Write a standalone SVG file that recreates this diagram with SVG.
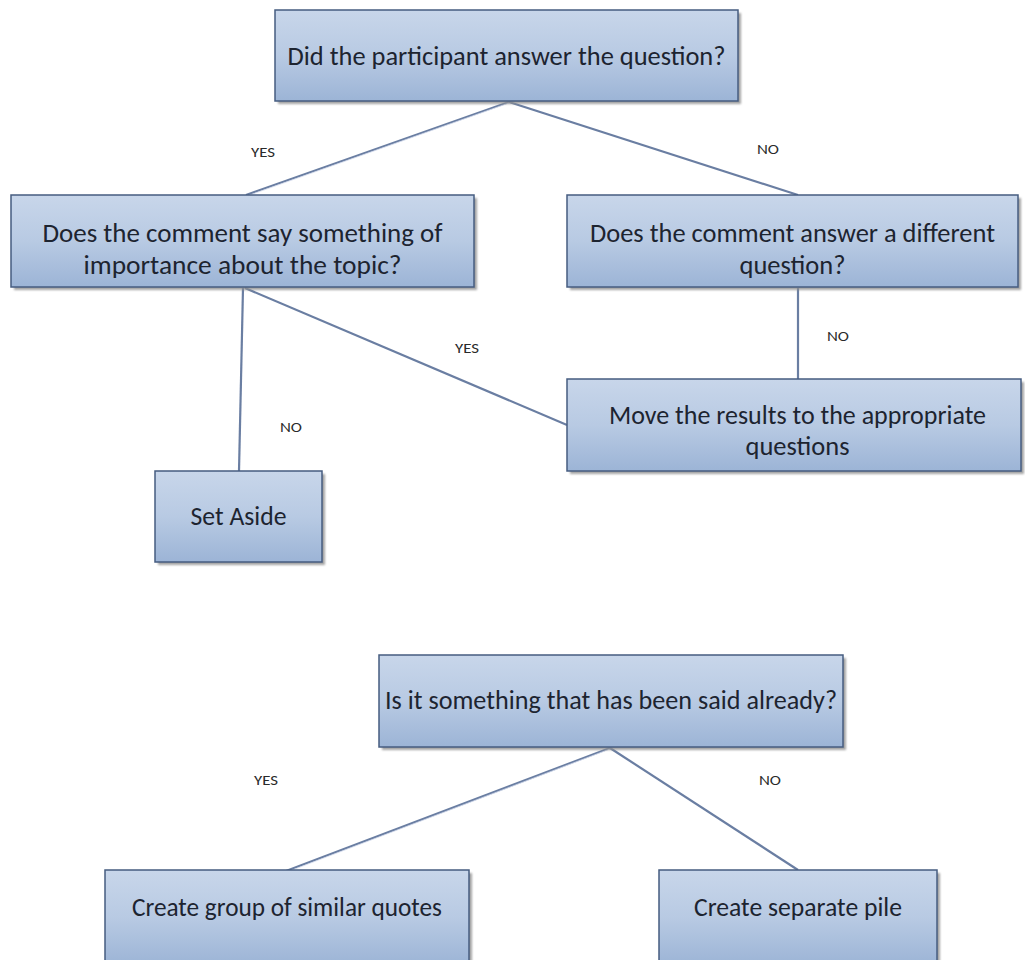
<svg xmlns="http://www.w3.org/2000/svg" width="1025" height="960" viewBox="0 0 1025 960">
  <defs>
    <linearGradient id="boxFill" x1="0" y1="0" x2="0" y2="1">
      <stop offset="0" stop-color="#c8d6ea"/>
      <stop offset="0.5" stop-color="#b8cae3"/>
      <stop offset="1" stop-color="#9cb4d6"/>
    </linearGradient>
    <filter id="shadow" x="-5%" y="-10%" width="115%" height="130%">
      <feGaussianBlur stdDeviation="1.2"/>
    </filter>
  </defs>
  <style>
    .shade { fill: #8e8e8e; opacity: 0.8; filter: url(#shadow); }
    .box { fill: url(#boxFill); stroke: #465c80; stroke-width: 1.5; }
    .txt { font-family: Carlito, Calibri, Lato, "Open Sans", sans-serif; font-size: 26px; fill: #1d2430; text-anchor: middle; }
    .lbl { font-family: Carlito, Calibri, Lato, "Open Sans", sans-serif; font-size: 14px; fill: #2a2a2a; text-anchor: middle; }
    .link { stroke: #6a7ea2; stroke-width: 2.2; fill: none; }
    .hl { stroke: #d4dced; stroke-width: 0.8; fill: none; }
  </style>
  <rect width="1025" height="960" fill="#ffffff"/>

  <!-- connectors and branch labels -->
  <g id="connectors">
    <line class="link" x1="509" y1="102" x2="246" y2="195"/>
    <line class="hl" x1="509" y1="103" x2="247" y2="196"/>
    <line class="link" x1="509" y1="102" x2="798" y2="195"/>
    <line class="link" x1="243" y1="288" x2="239" y2="471"/>
    <line class="link" x1="245" y1="288" x2="567" y2="425"/>
    <line class="link" x1="798" y1="288" x2="798" y2="379"/>
    <line class="link" x1="610" y1="748" x2="286" y2="871"/>
    <line class="hl" x1="610" y1="749" x2="287" y2="872"/>
    <line class="link" x1="610" y1="748" x2="798" y2="870"/>
    <text class="lbl" x="263" y="157" textLength="24" lengthAdjust="spacingAndGlyphs">YES</text>
    <text class="lbl" x="768" y="154" textLength="22" lengthAdjust="spacingAndGlyphs">NO</text>
    <text class="lbl" x="467" y="353" textLength="24" lengthAdjust="spacingAndGlyphs">YES</text>
    <text class="lbl" x="291" y="432" textLength="22" lengthAdjust="spacingAndGlyphs">NO</text>
    <text class="lbl" x="838" y="341" textLength="22" lengthAdjust="spacingAndGlyphs">NO</text>
    <text class="lbl" x="266" y="785" textLength="24" lengthAdjust="spacingAndGlyphs">YES</text>
    <text class="lbl" x="770" y="785" textLength="22" lengthAdjust="spacingAndGlyphs">NO</text>
  </g>

  <g id="q-answered">
    <rect class="shade" x="278" y="13" width="463" height="91"/>
    <rect class="box" x="275" y="10" width="463" height="91"/>
    <text class="txt" x="506.5" y="65" textLength="438" lengthAdjust="spacingAndGlyphs">Did the participant answer the question?</text>
  </g>

  <g id="q-importance">
    <rect class="shade" x="14" y="198" width="463" height="92"/>
    <rect class="box" x="11" y="195" width="463" height="92"/>
    <text class="txt" x="242.5" y="242" textLength="400" lengthAdjust="spacingAndGlyphs">Does the comment say something of</text>
    <text class="txt" x="242.5" y="274" textLength="318" lengthAdjust="spacingAndGlyphs">importance about the topic?</text>
  </g>

  <g id="q-different">
    <rect class="shade" x="570" y="198" width="451" height="92"/>
    <rect class="box" x="567" y="195" width="451" height="92"/>
    <text class="txt" x="792.5" y="242" textLength="405" lengthAdjust="spacingAndGlyphs">Does the comment answer a different</text>
    <text class="txt" x="792.5" y="274" textLength="106" lengthAdjust="spacingAndGlyphs">question?</text>
  </g>

  <g id="move-results">
    <rect class="shade" x="570" y="382" width="454" height="92"/>
    <rect class="box" x="567" y="379" width="454" height="92"/>
    <text class="txt" x="797.5" y="424" textLength="377" lengthAdjust="spacingAndGlyphs">Move the results to the appropriate</text>
    <text class="txt" x="797.5" y="455" textLength="104" lengthAdjust="spacingAndGlyphs">questions</text>
  </g>

  <g id="set-aside">
    <rect class="shade" x="158" y="474" width="167" height="91"/>
    <rect class="box" x="155" y="471" width="167" height="91"/>
    <text class="txt" x="238.5" y="525" textLength="96" lengthAdjust="spacingAndGlyphs">Set Aside</text>
  </g>

  <g id="q-said-already">
    <rect class="shade" x="382" y="658" width="464" height="92"/>
    <rect class="box" x="379" y="655" width="464" height="92"/>
    <text class="txt" x="611" y="709" textLength="452" lengthAdjust="spacingAndGlyphs">Is it something that has been said already?</text>
  </g>

  <g id="group-quotes">
    <rect class="shade" x="108" y="873" width="364" height="95"/>
    <rect class="box" x="105" y="870" width="364" height="95"/>
    <text class="txt" x="287" y="916" textLength="310" lengthAdjust="spacingAndGlyphs">Create group of similar quotes</text>
  </g>

  <g id="separate-pile">
    <rect class="shade" x="662" y="873" width="278" height="95"/>
    <rect class="box" x="659" y="870" width="278" height="95"/>
    <text class="txt" x="798" y="916" textLength="208" lengthAdjust="spacingAndGlyphs">Create separate pile</text>
  </g>
</svg>
